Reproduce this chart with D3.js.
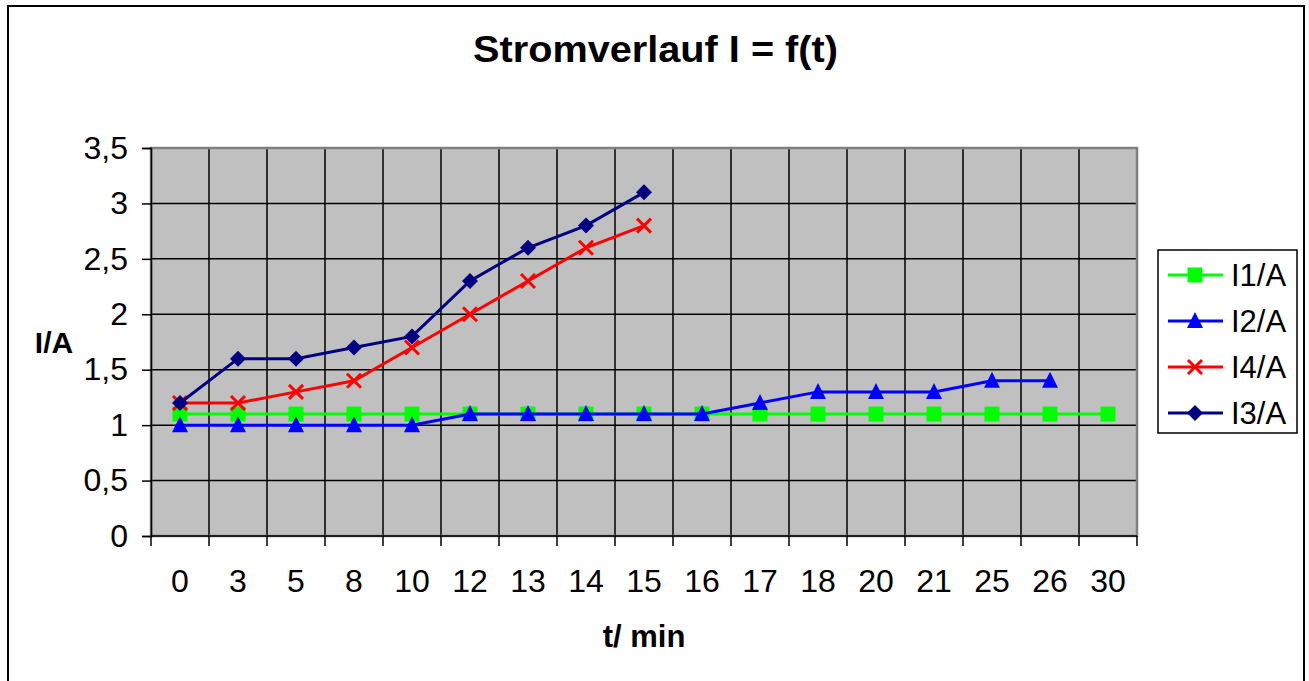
<!DOCTYPE html>
<html>
<head>
<meta charset="utf-8">
<script src="https://cdn.jsdelivr.net/npm/d3@7"></script>
<style>
  body { margin: 0; background: #fff; }
  svg text { font-family: "Liberation Sans", Arial, sans-serif; fill: #000; }
</style>
</head>
<body>
<svg id="chart" width="1309" height="681"></svg>
<script>
// categories (t in min) and values
var times = ['0', '3', '5', '8', '10', '12', '13', '14', '15', '16', '17', '18', '20', '21', '25', '26', '30'];
var i1 = [1.1, 1.1, 1.1, 1.1, 1.1, 1.1, 1.1, 1.1, 1.1, 1.1, 1.1, 1.1, 1.1, 1.1, 1.1, 1.1, 1.1];
var i2 = [1, 1, 1, 1, 1, 1.1, 1.1, 1.1, 1.1, 1.1, 1.2, 1.3, 1.3, 1.3, 1.4, 1.4];
var i4 = [1.2, 1.2, 1.3, 1.4, 1.7, 2.0, 2.3, 2.6, 2.8];
var i3 = [1.2, 1.6, 1.6, 1.7, 1.8, 2.3, 2.6, 2.8, 3.1];
var yTicks = [0, 0.5, 1, 1.5, 2, 2.5, 3, 3.5];

var series = [
    { name: 'I1/A', values: i1, color: '#00ff00', marker: 'square' },
    { name: 'I2/A', values: i2, color: '#0000ff', marker: 'triangle' },
    { name: 'I4/A', values: i4, color: '#ff0000', marker: 'cross' },
    { name: 'I3/A', values: i3, color: '#000080', marker: 'diamond' }
];

var svg = d3.select('#chart');

// plot area bounds
var plot = { l: 151, r: 1137, t: 148, b: 536 };

var xScale = d3.scaleBand().domain(times).range([plot.l, plot.r]);
var yScale = d3.scaleLinear().domain([0, 3.5]).range([plot.b, plot.t]);
var fmt = function (d) { return String(d).replace('.', ','); };

// outer chart frame
svg.append('rect')
    .attr('x', 8).attr('y', 6)
    .attr('width', 1296).attr('height', 690)
    .attr('fill', '#fff').attr('stroke', '#000').attr('stroke-width', 2);

// title
svg.append('text')
    .attr('x', 655.5).attr('y', 62)
    .attr('text-anchor', 'middle')
    .attr('font-size', 37).attr('font-weight', 'bold')
    .attr('textLength', 365).attr('lengthAdjust', 'spacingAndGlyphs')
    .text('Stromverlauf I = f(t)');

// plot background
svg.append('rect')
    .attr('x', plot.l).attr('y', plot.t)
    .attr('width', plot.r - plot.l).attr('height', plot.b - plot.t)
    .attr('fill', '#c0c0c0');

// horizontal gridlines
svg.append('g')
    .selectAll('line')
    .data(yTicks.slice(1))
    .enter().append('line')
    .attr('x1', plot.l).attr('x2', plot.r)
    .attr('y1', function (d) { return yScale(d); })
    .attr('y2', function (d) { return yScale(d); })
    .attr('stroke', '#000').attr('stroke-width', 1.5);

// vertical gridlines at category boundaries
var bounds = times.slice(1).map(function (t) { return xScale(t); });
svg.append('g')
    .selectAll('line')
    .data(bounds)
    .enter().append('line')
    .attr('x1', function (d) { return d; }).attr('x2', function (d) { return d; })
    .attr('y1', plot.t).attr('y2', plot.b)
    .attr('stroke', '#000').attr('stroke-width', 1.5);

// plot border
svg.append('rect')
    .attr('x', plot.l).attr('y', plot.t)
    .attr('width', plot.r - plot.l).attr('height', plot.b - plot.t)
    .attr('fill', 'none').attr('stroke', '#808080').attr('stroke-width', 2.5);

// y axis
var yAxis = d3.axisLeft(yScale).tickValues(yTicks).tickFormat(fmt).tickSize(9).tickPadding(14);
var yG = svg.append('g').attr('transform', 'translate(' + plot.l + ',0)').call(yAxis);
yG.select('.domain').attr('stroke', '#000').attr('stroke-width', 1.5);
yG.selectAll('.tick line').attr('stroke', '#000').attr('stroke-width', 1.5);
yG.selectAll('.tick text').attr('font-size', 32).attr('font-family', '"Liberation Sans", Arial, sans-serif').attr('fill', '#000');

// x axis (ticks on category boundaries)
var xG = svg.append('g').attr('transform', 'translate(0,' + plot.b + ')');
xG.append('line')
    .attr('x1', plot.l).attr('x2', plot.r)
    .attr('stroke', '#000').attr('stroke-width', 1.5);
xG.selectAll('.xtick')
    .data([plot.l].concat(bounds).concat([plot.r]))
    .enter().append('line')
    .attr('class', 'xtick')
    .attr('x1', function (d) { return d; }).attr('x2', function (d) { return d; })
    .attr('y1', 0).attr('y2', 10)
    .attr('stroke', '#000').attr('stroke-width', 1.5);
xG.selectAll('.xlabel')
    .data(times)
    .enter().append('text')
    .attr('class', 'xlabel')
    .attr('x', function (d) { return xScale(d) + xScale.bandwidth() / 2; })
    .attr('y', 56)
    .attr('text-anchor', 'middle')
    .attr('font-size', 32)
    .text(function (d) { return d; });

// axis titles
svg.append('text')
    .attr('x', 54).attr('y', 353)
    .attr('text-anchor', 'middle')
    .attr('font-size', 30).attr('font-weight', 'bold')
    .text('I/A');
svg.append('text')
    .attr('x', 644).attr('y', 647)
    .attr('text-anchor', 'middle')
    .attr('font-size', 31).attr('font-weight', 'bold')
    .text('t/ min');

// marker drawing
function drawMarker(g, type, color) {
    if (type === 'square') {
        g.append('rect').attr('x', -7.5).attr('y', -7.5).attr('width', 15).attr('height', 15).attr('fill', color);
    } else if (type === 'triangle') {
        g.append('path').attr('d', 'M0,-9L8,7L-8,7Z').attr('fill', color);
    } else if (type === 'diamond') {
        g.append('path').attr('d', 'M0,-8L8,0L0,8L-8,0Z').attr('fill', color);
    } else if (type === 'cross') {
        g.append('path').attr('d', 'M-7,-7L7,7M-7,7L7,-7').attr('stroke', color).attr('stroke-width', 3);
    }
}

var line = d3.line()
    .x(function (d, i) { return xScale(times[i]) + xScale.bandwidth() / 2; })
    .y(function (d) { return yScale(d); });

series.forEach(function (s) {
    var g = svg.append('g');
    g.append('path')
        .attr('d', line(s.values))
        .attr('fill', 'none')
        .attr('stroke', s.color)
        .attr('stroke-width', 3);
    g.selectAll('.pt')
        .data(s.values)
        .enter().append('g')
        .attr('class', 'pt')
        .attr('transform', function (d, i) {
            return 'translate(' + [xScale(times[i]) + xScale.bandwidth() / 2, yScale(d)] + ')';
        })
        .each(function () { drawMarker(d3.select(this), s.marker, s.color); });
});

// legend
var legend = svg.append('g');
legend.append('rect')
    .attr('x', 1158).attr('y', 250)
    .attr('width', 139).attr('height', 183)
    .attr('fill', '#fff').attr('stroke', '#000').attr('stroke-width', 1.5);
var items = legend.selectAll('.item')
    .data(series)
    .enter().append('g')
    .attr('class', 'item')
    .attr('transform', function (d, i) { return 'translate(0,' + (275 + i * 46) + ')'; });
items.append('line')
    .attr('x1', 1168).attr('x2', 1223)
    .attr('stroke', function (d) { return d.color; })
    .attr('stroke-width', 3);
items.append('g')
    .attr('transform', 'translate(1195,0)')
    .each(function (d) { drawMarker(d3.select(this), d.marker, d.color); });
items.append('text')
    .attr('x', 1231).attr('y', 11)
    .attr('font-size', 31)
    .text(function (d) { return d.name; });
</script>
</body>
</html>
